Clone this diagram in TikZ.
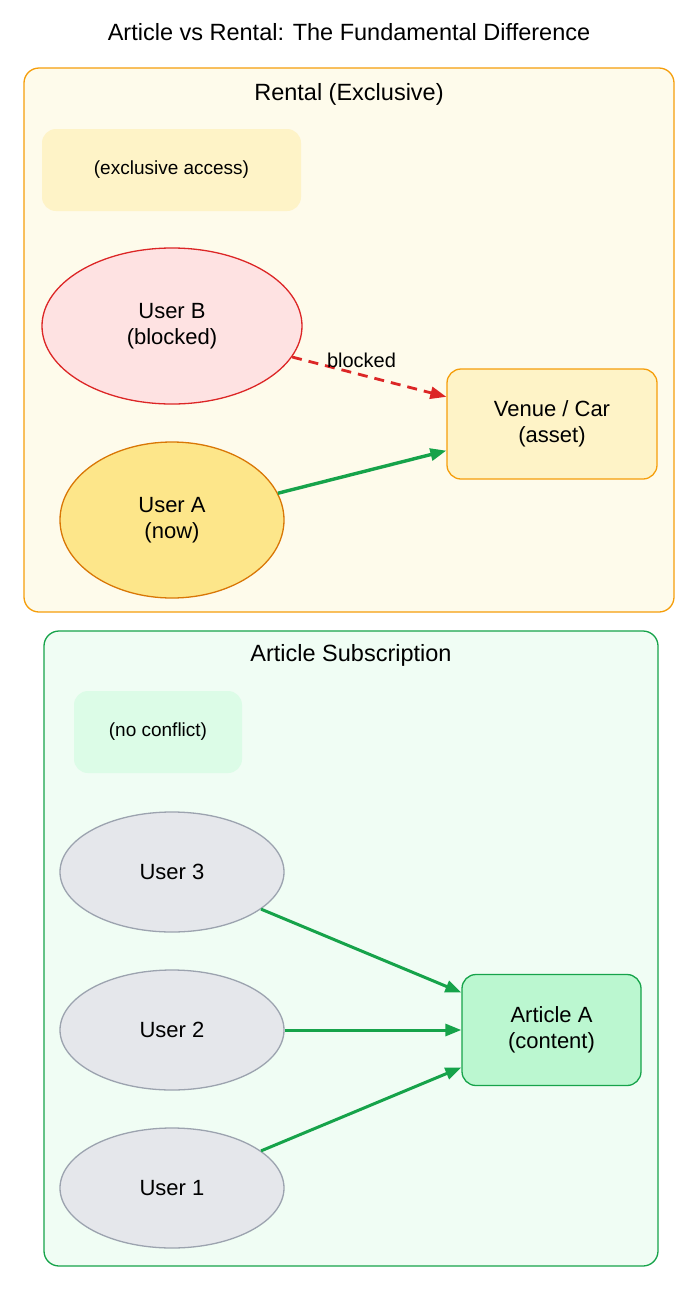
\documentclass[tikz,border=0pt]{standalone}
\usepackage{fontspec}
\setmainfont{Liberation Sans}
\usetikzlibrary{arrows.meta,shapes.geometric}
\definecolor{orB}{HTML}{F59E0B}
\definecolor{orF}{HTML}{FEFBEB}
\definecolor{amF}{HTML}{FEF3C7}
\definecolor{redS}{HTML}{DC2626}
\definecolor{redF}{HTML}{FEE2E2}
\definecolor{yeF}{HTML}{FDE68A}
\definecolor{yeS}{HTML}{D97706}
\definecolor{grS}{HTML}{16A34A}
\definecolor{grF}{HTML}{F0FDF4}
\definecolor{grN}{HTML}{DCFCE7}
\definecolor{grA}{HTML}{BBF7D0}
\definecolor{gyF}{HTML}{E5E7EB}
\definecolor{gyS}{HTML}{9CA3AF}
\tikzset{
 cluster/.style={rounded corners=15pt,line width=1.3pt},
 note/.style={rectangle,rounded corners=14pt,draw=none,font=\fontsize{19}{22}\selectfont,align=center},
 ell/.style={ellipse,line width=1.3pt,font=\fontsize{22}{26}\selectfont,align=center,inner sep=0pt},
 box/.style={rectangle,rounded corners=14pt,line width=1.3pt,font=\fontsize{22}{26}\selectfont,align=center,inner sep=0pt},
 arr/.style={-{Triangle[length=16pt,width=12pt]},grS,line width=3pt},
}
\begin{document}
\begin{tikzpicture}[x=1pt,y=-1pt]
\useasboundingbox (0,0) rectangle (699,1291);
\node[font=\fontsize{23.5}{28}\selectfont] (title) at (349,32) {Article vs Rental: The Fundamental Difference};
% rental cluster
\draw[cluster,draw=orB,fill=orF] (24,68) rectangle (674,612);
\node[font=\fontsize{23.5}{28}\selectfont] (rl) at (349,94) {Rental (Exclusive)};
\node[note,fill=amF,minimum width=259pt,minimum height=82pt] (ex) at (171.5,170) {(exclusive access)};
\node[ell,draw=redS,fill=redF,minimum width=260pt,minimum height=156pt] (ub) at (172,326) {User B\\(blocked)};
\node[ell,draw=yeS,fill=yeF,minimum width=224pt,minimum height=156pt] (ua) at (172,520) {User A\\(now)};
\node[box,draw=orB,fill=amF,minimum width=210pt,minimum height=110pt] (venue) at (552,424) {Venue / Car\\(asset)};
\draw[-{Triangle[length=16pt,width=12pt]},redS,line width=2.8pt,dash pattern=on 10pt off 7pt] (ub) -- node[above,black,font=\fontsize{20}{24}\selectfont,pos=0.45,yshift=2pt]{blocked} (venue);
\draw[arr,line width=3.4pt] (ua) -- (venue);
% article cluster
\draw[cluster,draw=grS,fill=grF] (44,631) rectangle (658,1266);
\node[font=\fontsize{23.5}{28}\selectfont] (al) at (351,655) {Article Subscription};
\node[note,fill=grN,minimum width=168pt,minimum height=82pt] (nc) at (158,732) {(no conflict)};
\node[ell,draw=gyS,fill=gyF,minimum width=224pt,minimum height=120pt] (u3) at (172,872) {User 3};
\node[ell,draw=gyS,fill=gyF,minimum width=224pt,minimum height=120pt] (u2) at (172,1030) {User 2};
\node[ell,draw=gyS,fill=gyF,minimum width=224pt,minimum height=120pt] (u1) at (172,1188) {User 1};
\node[box,draw=grS,fill=grA,minimum width=179pt,minimum height=111pt] (art) at (551.5,1030) {Article A\\(content)};
\draw[arr] (u3) -- (art);
\draw[arr] (u2) -- (art);
\draw[arr] (u1) -- (art);
\end{tikzpicture}
\end{document}
